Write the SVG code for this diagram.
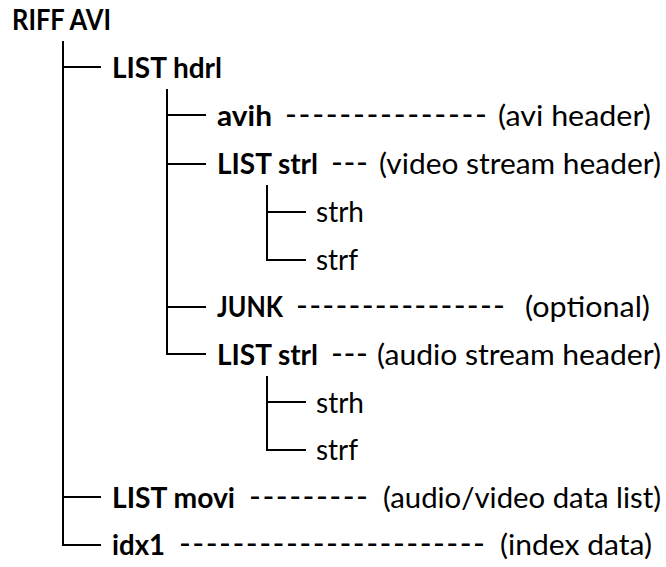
<svg xmlns="http://www.w3.org/2000/svg" width="666" height="567" viewBox="0 0 666 567">
<style>
text{font-family:Lato,"Open Sans","Liberation Sans",sans-serif;font-size:28px;fill:#000}
.b{font-weight:bold}
.d{font-weight:normal}
.h{font-weight:normal;font-size:32px}
.c line{stroke:#000;stroke-width:2;stroke-linecap:square}
</style>
<rect width="666" height="567" fill="#fff"/>
<g class="c" id="connectors">
<line x1="63" y1="42" x2="63" y2="545"/>
<line x1="63" y1="67" x2="100" y2="67"/>
<line x1="63" y1="497" x2="100" y2="497"/>
<line x1="63" y1="545" x2="100" y2="545"/>
<line x1="167" y1="90" x2="167" y2="354"/>
<line x1="167" y1="115" x2="205" y2="115"/>
<line x1="167" y1="164" x2="205" y2="164"/>
<line x1="167" y1="307" x2="205" y2="307"/>
<line x1="167" y1="354" x2="205" y2="354"/>
<line x1="267" y1="186" x2="267" y2="260"/>
<line x1="267" y1="212" x2="305" y2="212"/>
<line x1="267" y1="260" x2="305" y2="260"/>
<line x1="267" y1="377" x2="267" y2="450"/>
<line x1="267" y1="402" x2="305" y2="402"/>
<line x1="267" y1="450" x2="305" y2="450"/>
</g>
<g id="riff"><text class="b" x="12" y="30" textLength="99" lengthAdjust="spacingAndGlyphs">RIFF AVI</text></g>
<g id="hdrl"><text class="b" x="112" y="78" textLength="110" lengthAdjust="spacingAndGlyphs">LIST hdrl</text></g>
<g id="avih"><text class="b" x="217" y="126" textLength="55" lengthAdjust="spacingAndGlyphs">avih</text>
<text class="h" x="285" y="126" textLength="202" lengthAdjust="spacing">---------------</text>
<text class="d" x="651" y="126" text-anchor="end" textLength="153" lengthAdjust="spacingAndGlyphs">(avi header)</text></g>
<g id="strl1"><text class="b" x="217" y="174" textLength="101" lengthAdjust="spacingAndGlyphs">LIST strl</text>
<text class="h" x="331" y="174" textLength="37" lengthAdjust="spacing">---</text>
<text class="d" x="661" y="174" text-anchor="end" textLength="282" lengthAdjust="spacingAndGlyphs">(video stream header)</text></g>
<g id="strh1"><text class="d" x="316" y="222" textLength="48" lengthAdjust="spacingAndGlyphs">strh</text></g>
<g id="strf1"><text class="d" x="316" y="270" textLength="42" lengthAdjust="spacingAndGlyphs">strf</text></g>
<g id="junk"><text class="b" x="217" y="317" textLength="66" lengthAdjust="spacingAndGlyphs">JUNK</text>
<text class="h" x="296" y="317" textLength="209" lengthAdjust="spacing">----------------</text>
<text class="d" x="650" y="317" text-anchor="end" textLength="125" lengthAdjust="spacingAndGlyphs">(optional)</text></g>
<g id="strl2"><text class="b" x="217" y="365" textLength="101" lengthAdjust="spacingAndGlyphs">LIST strl</text>
<text class="h" x="331" y="365" textLength="37" lengthAdjust="spacing">---</text>
<text class="d" x="661" y="365" text-anchor="end" textLength="284" lengthAdjust="spacingAndGlyphs">(audio stream header)</text></g>
<g id="strh2"><text class="d" x="316" y="413" textLength="48" lengthAdjust="spacingAndGlyphs">strh</text></g>
<g id="strf2"><text class="d" x="316" y="460" textLength="42" lengthAdjust="spacingAndGlyphs">strf</text></g>
<g id="movi"><text class="b" x="112" y="508" textLength="123" lengthAdjust="spacingAndGlyphs">LIST movi</text>
<text class="h" x="249" y="508" textLength="119" lengthAdjust="spacing">---------</text>
<text class="d" x="661" y="508" text-anchor="end" textLength="278" lengthAdjust="spacingAndGlyphs">(audio/video data list)</text></g>
<g id="idx1"><text class="b" x="112" y="555" textLength="53" lengthAdjust="spacingAndGlyphs">idx1</text>
<text class="h" x="179" y="555" textLength="306" lengthAdjust="spacing">-----------------------</text>
<text class="d" x="652" y="555" text-anchor="end" textLength="152" lengthAdjust="spacingAndGlyphs">(index data)</text></g>
</svg>
